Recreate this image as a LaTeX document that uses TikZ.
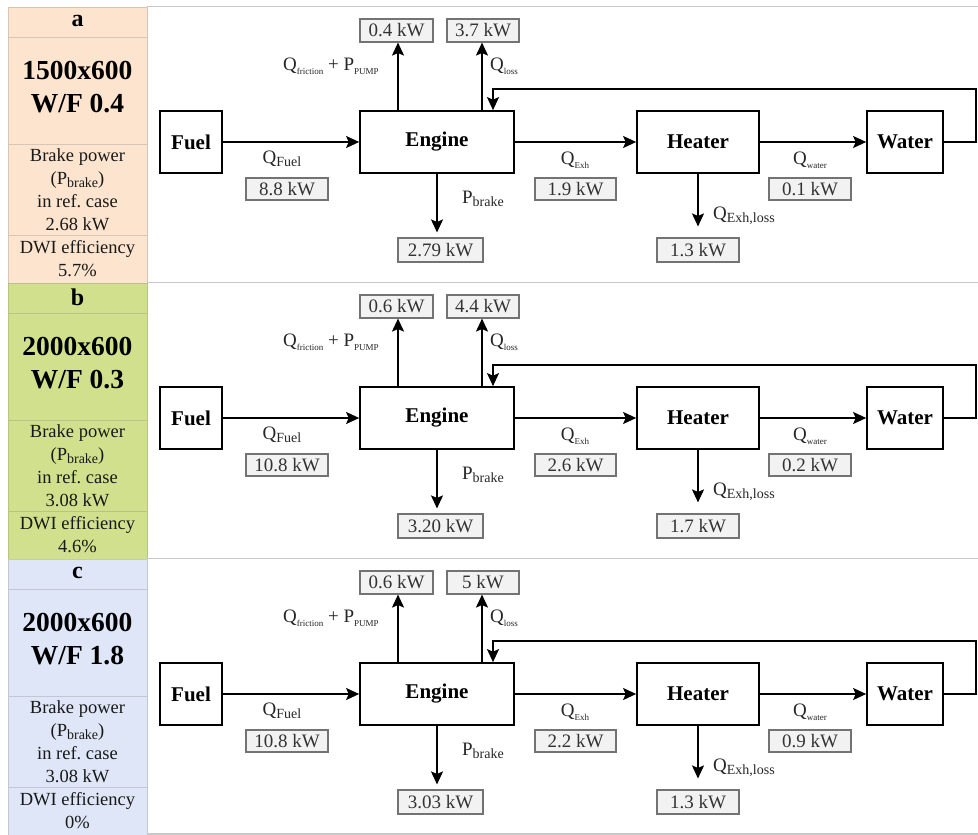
\documentclass[tikz,border=0pt]{standalone}
\usepackage{fontspec}
\setmainfont{Liberation Serif}
\usetikzlibrary{arrows.meta}
\definecolor{pa}{RGB}{252,228,206}
\definecolor{pb}{RGB}{209,224,140}
\definecolor{pc}{RGB}{222,230,247}
\definecolor{sepgray}{RGB}{200,200,200}
\newcommand\lsub[1]{\raisebox{-0.35ex}{\fontsize{14}{14}\selectfont #1}}
\newcommand\tsub[1]{\raisebox{-0.45ex}{\fontsize{9}{9}\selectfont #1}}
\begin{document}
\begin{tikzpicture}[x=1pt,y=-1pt,
  blk/.style={draw, line width=1.7pt, fill=white, inner sep=0pt,
    font=\fontsize{21}{21}\selectfont\bfseries},
  val/.style={draw=black!55, fill=black!5, line width=1.1pt, inner sep=0pt,
    text=black!80, font=\fontsize{19}{19}\selectfont},
  lab/.style={inner sep=0pt, text=black!85, font=\fontsize{19}{19}\selectfont},
  flow/.style={-{Stealth[length=13pt,width=12pt,inset=2.5pt]}, line width=1.7pt},
  sep/.style={draw=sepgray, line width=1.3pt},
  ctext/.style={inner sep=0pt, align=center, text=black!90,
    font=\fontsize{18.5}{23}\selectfont}]
\useasboundingbox (0,0) rectangle (978,835);
\foreach \i/\L/\col/\sz/\wf/\rb/\dwi/\vf/\vfr/\vl/\vb/\ve/\vel/\vw in {
  0/a/pa/1500x600/0.4/2.68/5.7/8.8/0.4/3.7/2.79/1.9/1.3/0.1,
  1/b/pb/2000x600/0.3/3.08/4.6/10.8/0.6/4.4/3.20/2.6/1.7/0.2,
  2/c/pc/2000x600/1.8/3.08/0/10.8/0.6/5/3.03/2.2/1.3/0.9}{
\begin{scope}[yshift=-\i*276pt]
  % left column
  \fill[\col] (8,7) rectangle (147,283);
  \draw[\col!70!gray, line width=0.9pt] (8,7) rectangle (147,283)
    (8,37) -- (147,37) (8,144) -- (147,144) (8,235) -- (147,235);
  \node[inner sep=0pt, font=\fontsize{24}{24}\selectfont\bfseries] (Lh\i) at (77.5,21) {\L};
  \node[inner sep=0pt, align=center, font=\fontsize{27.5}{33}\selectfont\bfseries] (Lt\i) at (77.5,87) {\sz\\W/F \wf};
  \node[ctext] (Lb\i) at (77.5,190) {Brake power\\(P\lsub{brake})\\in ref.\ case\\\rb{} kW};
  \node[ctext] (Ld\i) at (77.5,259) {DWI efficiency\\\dwi\%};
  % separators
  \draw[sep] (147,6.5) -- (978,6.5);
  % blocks
  \node[blk, minimum width=62pt, minimum height=62pt] (F\i) at (191,142) {Fuel};
  \node[blk, minimum width=154pt, minimum height=62pt] (E\i) at (437,142) {Engine};
  \node[blk, minimum width=122pt, minimum height=62pt] (H\i) at (698,142) {Heater};
  \node[blk, minimum width=76pt, minimum height=62pt] (W\i) at (905,142) {Water};
  % value boxes
  \node[val, minimum width=73pt, minimum height=23pt] (Vfr\i) at (396.5,30.5) {\vfr{} kW};
  \node[val, minimum width=72pt, minimum height=23pt] (Vl\i) at (483,30.5) {\vl{} kW};
  \node[val, minimum width=82pt, minimum height=22pt] (Vf\i) at (287,189) {\vf{} kW};
  \node[val, minimum width=85pt, minimum height=24pt] (Vb\i) at (440.5,250) {\vb{} kW};
  \node[val, minimum width=81pt, minimum height=22pt] (Ve\i) at (575.5,189) {\ve{} kW};
  \node[val, minimum width=82pt, minimum height=24pt] (Vel\i) at (698,250) {\vel{} kW};
  \node[val, minimum width=82pt, minimum height=22pt] (Vw\i) at (810,189) {\vw{} kW};
  % labels
  \node[lab] (Tfr\i) at (331,66) {Q\tsub{friction} + P\tsub{PUMP}};
  \node[lab, anchor=west] (Tl\i) at (490,66) {Q\tsub{loss}};
  \node[lab] (Tf\i) at (282,159) {Q\lsub{Fuel}};
  \node[lab] (Tb\i) at (483,199) {P\lsub{brake}};
  \node[lab] (Te\i) at (575,160) {Q\tsub{Exh}};
  \node[lab, anchor=west] (Tel\i) at (713,216) {Q\lsub{Exh,loss}};
  \node[lab] (Tw\i) at (810,160) {Q\tsub{water}};
  % flows
  \draw[flow] (F\i) -- (E\i);
  \draw[flow] (E\i) -- (H\i);
  \draw[flow] (H\i) -- (W\i);
  \draw[flow] (E\i.north -| 398,0) -- (Vfr\i.south -| 398,0);
  \draw[flow] (E\i.north -| 482,0) -- (Vl\i.south -| 482,0);
  \draw[flow, shorten >=5pt] (E\i.south) -- (E\i.south |- Vb\i.north);
  \draw[flow, shorten >=11pt] (H\i.south) -- (H\i.south |- Vel\i.north);
  \coordinate (fb\i) at (493,89);
  \draw[flow] (W\i.east) -- ++(32,0) |- (fb\i) -- (fb\i |- E\i.north);
\end{scope}
}
\draw[sep] (147,834) -- (978,834);
\end{tikzpicture}
\end{document}
